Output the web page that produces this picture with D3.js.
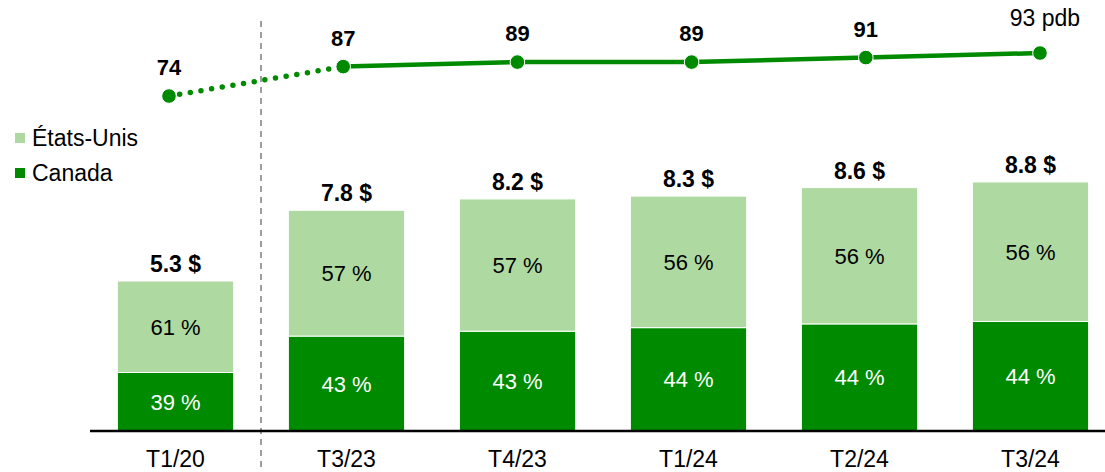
<!DOCTYPE html>
<html lang="fr">
<head>
<meta charset="UTF-8">
<title>Canada / États-Unis</title>
<script src="https://d3js.org/d3.v7.min.js"></script>
<style>
  html, body { margin: 0; padding: 0; background: #fff; }
  svg { display: block; font-family: "Liberation Sans", Arial, sans-serif; }
</style>
</head>
<body>
<svg id="chart" width="1105" height="472"></svg>
<script>
// data
const periods   = ['T1/20', 'T3/23', 'T4/23', 'T1/24', 'T2/24', 'T3/24'];
const totals    = [5.3, 7.8, 8.2, 8.3, 8.6, 8.8];          // $
const canadaPct = [39, 43, 43, 44, 44, 44];
const usPct     = [61, 57, 57, 56, 56, 56];
const margins   = [74, 87, 89, 89, 91, 93];                // pdb
const totalLabels  = ['5.3 $', '7.8 $', '8.2 $', '8.3 $', '8.6 $', '8.8 $'];
const marginLabels = ['74', '87', '89', '89', '91', '93 pdb'];

const DARK = '#008a00', LIGHT = '#aed9a0';
const FONT = '"Liberation Sans", Arial, sans-serif';

const svg = d3.select('#chart');

const x = d3.scaleBand().domain(periods).range([90, 1116]).paddingInner(0.32).paddingOuter(0.16);
const y = d3.scaleLinear().domain([0, 10]).range([431, 148]);

// line sits on its own axis (like a secondary axis)
const xl = d3.scalePoint().domain(periods).range([169, 1040]);
const yl = d3.scaleLinear().domain([0, 100]).range([263.5, 37.2]);

// stacked segments
const rows = periods.map((p, i) => ({
  p, total: totals[i],
  can: totals[i] * canadaPct[i] / 100,
  us: totals[i] * usPct[i] / 100,
  canPct: canadaPct[i], usPct: usPct[i]
}));

const g = svg.append('g');

// divider between 2020 and the rest
svg.append('line')
  .attr('x1', 261).attr('x2', 261).attr('y1', 21).attr('y2', 472)
  .attr('stroke', '#7f7f7f').attr('stroke-width', 1.5)
  .attr('stroke-dasharray', '6,5');

g.selectAll('rect.can').data(rows).join('rect')
  .attr('class', 'can')
  .attr('x', d => x(d.p)).attr('width', x.bandwidth())
  .attr('y', d => y(d.can)).attr('height', d => y(0) - y(d.can))
  .attr('fill', DARK).attr('stroke', '#fff').attr('stroke-width', 1);

g.selectAll('rect.us').data(rows).join('rect')
  .attr('class', 'us')
  .attr('x', d => x(d.p)).attr('width', x.bandwidth())
  .attr('y', d => y(d.can + d.us)).attr('height', d => y(d.can) - y(d.can + d.us))
  .attr('fill', LIGHT).attr('stroke', '#fff').attr('stroke-width', 1);

// percentages inside segments
g.selectAll('text.canl').data(rows).join('text')
  .attr('x', d => x(d.p) + x.bandwidth() / 2)
  .attr('y', d => (y(0) + y(d.can)) / 2 + 8)
  .attr('text-anchor', 'middle').attr('font-size', 22).attr('fill', '#fff')
  .text(d => d.canPct + ' %');

g.selectAll('text.usl').data(rows).join('text')
  .attr('x', d => x(d.p) + x.bandwidth() / 2)
  .attr('y', d => (y(d.can) + y(d.can + d.us)) / 2 + 8)
  .attr('text-anchor', 'middle').attr('font-size', 22).attr('fill', '#000')
  .text(d => d.usPct + ' %');

// totals above bars
g.selectAll('text.tot').data(rows).join('text')
  .attr('x', d => x(d.p) + x.bandwidth() / 2)
  .attr('y', d => y(d.total) - 9)
  .attr('text-anchor', 'middle').attr('font-size', 23).attr('font-weight', 'bold')
  .text((d, i) => totalLabels[i]);

// x axis
const xAxis = svg.append('g').attr('transform', 'translate(0,431)')
  .call(d3.axisBottom(x).tickSize(0).tickPadding(20));
xAxis.select('.domain').attr('d', 'M90,0H1105').attr('stroke', '#000').attr('stroke-width', 2.5);
xAxis.selectAll('text').attr('font-size', 23).attr('fill', '#000').attr('font-family', FONT);

// margin line: dotted for the first gap, solid afterwards
const pts = periods.map((p, i) => [xl(p), yl(margins[i])]);
const line = d3.line();
svg.append('path').attr('d', line(pts.slice(0, 2)))
  .attr('fill', 'none').attr('stroke', DARK).attr('stroke-width', 5.5)
  .attr('stroke-linecap', 'round').attr('stroke-dasharray', '0,10.8');
svg.append('path').attr('d', line(pts.slice(1)))
  .attr('fill', 'none').attr('stroke', DARK).attr('stroke-width', 4.5);

svg.selectAll('circle.pt').data(pts).join('circle')
  .attr('cx', d => d[0]).attr('cy', d => d[1]).attr('r', 7.3)
  .attr('fill', DARK).attr('stroke', '#fff').attr('stroke-width', 1);

const last = pts.length - 1;
svg.selectAll('text.ml').data(pts).join('text')
  .attr('x', d => d[0])
  .attr('y', d => d[1] - 21)
  .attr('text-anchor', 'middle')
  .attr('dx', (d, i) => i === last ? 5 : 0)
  .attr('dy', (d, i) => i === last ? -6 : 0)
  .attr('font-size', (d, i) => i === last ? 23 : 22)
  .attr('font-weight', (d, i) => i === last ? 'normal' : 'bold')
  .text((d, i) => marginLabels[i]);

// legend
const legend = [['États-Unis', LIGHT], ['Canada', DARK]];
const lg = svg.append('g').selectAll('g').data(legend).join('g')
  .attr('transform', (d, i) => `translate(15,${133 + i * 35})`);
lg.append('rect').attr('width', 10).attr('height', 10).attr('fill', d => d[1]);
lg.append('text').attr('x', 17).attr('y', 13).attr('font-size', 23).text(d => d[0]);
</script>
</body>
</html>
